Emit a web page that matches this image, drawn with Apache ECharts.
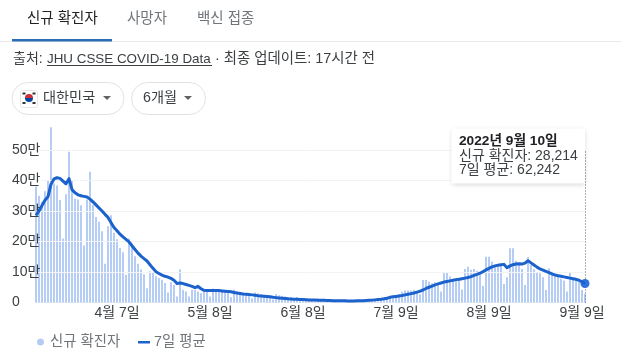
<!DOCTYPE html>
<html><head><meta charset="utf-8">
<style>html,body{margin:0;padding:0;background:#fff}#c{width:621px;height:359px}</style>
<script src="https://cdn.jsdelivr.net/npm/echarts@6/dist/echarts.min.js"></script>
</head><body><div id="c"></div>
<script>
const monthSpans = [[3,11,31],[4,1,30],[5,1,31],[6,1,30],[7,1,31],[8,1,31],[9,1,10]];
const categories = [];
monthSpans.forEach(([m,a,b])=>{for(let d=a;d<=b;d++)categories.push(m+'월 '+d+'일');});
const tickLabels = ['4월 7일','5월 8일','6월 8일','7월 9일','8월 9일','9월 9일'];
const yTickLabels = ['0','10만','20만','30만','40만','50만'];
const seriesNames = ['신규 확진자','7일 평균'];
// values in units of 10,000 (만)
const newCases = [
38,35,33,36.5,40,57.5,39,38.4,33.6,21,35.5,49.4,39.9,34,33.8,31.9,18.7,33.8,42.9,32,
28,26.5,23.4,12.7,25,28.6,22.9,20.7,17.9,16.5,9.1,21,19.3,15.2,12.7,10.8,9.3,4.7,10.2,9.7,
8.6,8,7.5,6.4,3.3,6.6,5.8,2,10.8,4.2,3.6,2,4.2,4.2,3.6,3,3.6,3.6,
2.0,4.6,4.1,3.9,3.6,3.5,3.3,1.7,4.2,3.7,3.4,3.2,3.0,2.8,1.3,3.3,3.0,2.7,2.5,2.4,2.2,1.0,
2.7,2.4,2.2,2.0,1.8,1.7,0.9,1.8,1.4,1.5,1.3,1.2,1.0,0.6,1.3,1.1,1.0,0.9,0.8,0.7,
0.35,0.9,0.7,0.6,0.6,0.6,0.55,0.3,0.9,0.7,0.65,0.6,0.6,0.6,0.35,1.0,1.2,1.1,
1.7,1.4,1.9,2.7,3.5,3.9,3.9,3.9,4.1,3.6,2.7,7.4,7.4,6.8,6.3,6.6,6.3,3.6,9.9,9.9,
8.5,7.6,7.6,7.6,4.3,11,11.7,10.7,11,10.4,9.9,5.4,15,15,
13.4,12.3,11.7,12,6.1,8.3,17.8,17.8,13.7,12.8,11,5.7,14.8,12.3,10.9,9.9,9.6,8.3,4.1,11.2,
10.1,8.5,8.3,7.9,7.2,3.6,9.9,7.6,7.4,6.8,4.1,2.8214];
const avg7 = [
28.6,30,31.8,33.5,34.7,38.8,40.5,40.9,40.7,39.8,38.9,40.6,37,36,35.3,35,34.8,34.6,33.9,33,
32,31,30,28.9,27.9,26.2,24.6,23.5,22.4,21.5,20.7,19.9,18.6,17.4,16.2,15.2,14.4,13.6,12.4,11.2,
10.1,9.5,9,8.6,8.3,7.9,7.3,6.2,6.4,6.2,5.9,5.6,5.3,4.9,5.3,4.5,4,3.9,3.9,3.9,
3.9,3.9,3.8,3.7,3.6,3.5,3.3,3.1,2.95,2.8,2.7,2.6,2.5,2.4,2.25,2.15,2.05,1.95,1.85,1.7,
1.6,1.5,1.4,1.3,1.2,1.15,1.1,1.05,1,0.95,0.9,0.85,0.8,0.78,0.75,0.72,0.7,0.66,0.63,0.6,
0.58,0.56,0.55,0.54,0.53,0.52,0.53,0.55,0.57,0.6,0.64,0.7,0.78,0.86,0.95,1.05,1.2,1.4,
1.7,1.85,2,2.15,2.3,2.5,2.7,2.9,3.1,3.4,3.7,4.1,4.6,5,5.4,5.8,6.1,6.4,6.7,6.9,
7.1,7.3,7.5,7.6,7.8,8,8.2,8.5,8.9,9.2,9.6,10.1,10.7,11.2,
11.7,12,12.2,12.4,12.5,11.4,12,12.4,12.6,12.7,12.6,12.9,13.7,13,12.3,11.6,11,10.6,10.2,9.8,
9.4,9,8.8,8.6,8.4,8.2,8,7.8,7.6,7.3,6.8,6.2242];

const FONT = '"Liberation Sans","Noto Sans CJK KR",sans-serif';
const DARK='#3c4043', GREY='#70757a', BAR='#b5cdf4', LINE='#1c62cc';
const T=(x,y,text,size,fill,extra)=>({type:'text',x,y,z:50,style:Object.assign({text,font:size+'px '+FONT,fill,textVerticalAlign:'middle'},extra||{})});
const chip=(x,w)=>({type:'rect',shape:{x,y:82.5,width:w,height:32,r:16},z:40,style:{fill:'#fff',stroke:'#dfe1e5',lineWidth:1}});
const tri=(x,y)=>({type:'polygon',z:50,shape:{points:[[x-4,y-2],[x+4,y-2],[x,y+2]]},style:{fill:'#5f6368'}});

const chart = echarts.init(document.getElementById('c'),null,{renderer:'canvas'});
const last = categories.length-1;
chart.setOption({
  animation:false,
  textStyle:{fontFamily:FONT},
  grid:{left:36,right:36,top:119.5,bottom:56.5,containLabel:false},
  xAxis:{type:'category',data:categories,boundaryGap:false,
    axisLine:{show:true,lineStyle:{color:'#ececec'}},axisTick:{show:false},
    axisLabel:{interval:(i,v)=>tickLabels.includes(v),formatter:v=>v,color:DARK,fontSize:14,margin:4,fontFamily:FONT,hideOverlap:false}},
  yAxis:{type:'value',min:0,max:60,interval:10,
    axisLine:{show:false},axisTick:{show:false},
    splitLine:{show:true,showMaxLine:false,showMinLine:false,lineStyle:{color:'#f3f3f3'}},
    z:5,
    axisLabel:{align:'left',margin:24,color:DARK,fontSize:14,fontFamily:FONT,showMaxLabel:false,
      formatter:v=>yTickLabels[v/10]||''}},
  series:[
    {name:seriesNames[0],type:'bar',data:newCases,barWidth:2,clip:false,itemStyle:{color:BAR},silent:true},
    {name:seriesNames[1],type:'line',data:avg7,smooth:false,showSymbol:false,symbol:'none',clip:false,
      lineStyle:{color:LINE,width:3,join:'round'},silent:true,z:10,
      markPoint:{silent:true,symbol:'circle',symbolSize:9,itemStyle:{color:'#2f72dc'},label:{show:false},
        data:[{coord:[last,avg7[last]]}]},
      markLine:{silent:true,symbol:'none',label:{show:false},
        lineStyle:{color:'#5f6368',type:[1,2],width:1},
        data:[[{coord:[last,0]},{coord:[last,50]}]]}}
  ],
  graphic:[
    T(27,19,'신규 확진자',14.5,'#202124'),
    T(127,19,'사망자',14.5,GREY),
    T(197,19,'백신 접종',14.5,GREY),
    {type:'rect',z:40,shape:{x:0,y:41,width:621,height:1},style:{fill:'#ebebeb'}},
    {type:'rect',z:41,shape:{x:12,y:39,width:100,height:2.5},style:{fill:'#2a6db5'}},
    T(13,59,'출처:',14,DARK),
    T(47,59,'JHU CSSE COVID-19 Data',13.4,DARK),
    {type:'rect',z:50,shape:{x:47,y:65,width:165,height:1},style:{fill:DARK}},
    T(215,59,'· 최종 업데이트: 17시간 전',14.4,DARK),
    chip(12,112),chip(131.5,74),
    {type:'rect',z:50,shape:{x:20.5,y:90.5,width:17,height:17,r:2},style:{fill:'#fff',stroke:'#e6e6e6'}},
    {type:'sector',z:51,shape:{cx:29,cy:98,r:4,r0:0,startAngle:Math.PI,endAngle:2*Math.PI},style:{fill:'#cd2e3a'}},
    {type:'sector',z:51,shape:{cx:29,cy:98,r:4,r0:0,startAngle:0,endAngle:Math.PI},style:{fill:'#0047a0'}},
    {type:'rect',z:51,shape:{x:22.5,y:92.5,width:3,height:2},style:{fill:'#333'}},
    {type:'rect',z:51,shape:{x:32.5,y:92.5,width:3,height:2},style:{fill:'#333'}},
    {type:'rect',z:51,shape:{x:22.5,y:102,width:3,height:2},style:{fill:'#333'}},
    {type:'rect',z:51,shape:{x:32.5,y:102,width:3,height:2},style:{fill:'#333'}},
    T(43,98,'대한민국',14.2,DARK),
    tri(107,98),
    T(143,98,'6개월',14.2,DARK),
    tri(188,98),
    // tooltip
    {type:'rect',z:60,shape:{x:451.5,y:128.5,width:133.5,height:55},style:{fill:'#fff',shadowBlur:5,shadowColor:'rgba(0,0,0,0.18)',shadowOffsetY:1}},
    Object.assign(T(459,141,'',14,'#202124'),{z:61,style:{text:'2022년 9월 10일',font:'bold 13.7px '+FONT,fill:'#202124',textVerticalAlign:'middle'}}),
    Object.assign(T(459,156,seriesNames[0]+': 28,214',14,DARK),{z:61}),
    Object.assign(T(459,170,seriesNames[1]+': 62,242',14,DARK),{z:61}),
    // legend
    {type:'circle',z:50,shape:{cx:40.5,cy:342,r:3.5},style:{fill:BAR}},
    T(50,342,seriesNames[0],14.4,GREY),
    {type:'rect',z:50,shape:{x:138,y:341,width:12,height:2.5},style:{fill:LINE}},
    T(154,342,seriesNames[1],14.4,GREY)
  ]
});
</script></body></html>
